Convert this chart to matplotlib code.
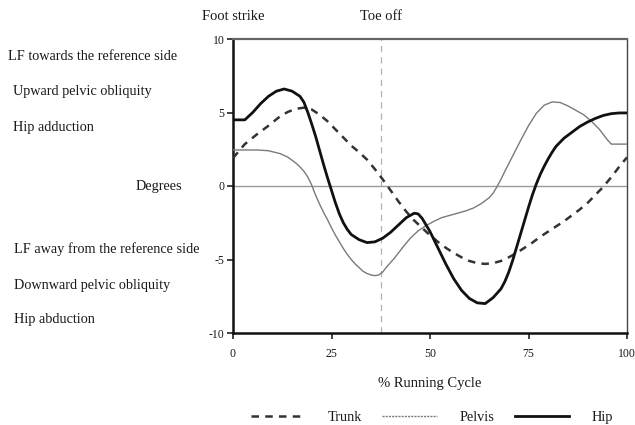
import matplotlib
matplotlib.use("Agg")
import matplotlib.pyplot as plt
import matplotlib.transforms as mtransforms
from matplotlib.lines import Line2D

plt.rcParams['font.family'] = ['Liberation Serif', 'DejaVu Serif']

# % running cycle vs. degrees
trunk_x = [0, 3, 6, 9, 12, 14, 16, 18, 20, 22, 24, 26, 28, 30, 32, 34, 36, 38, 40, 42,
           44, 46, 48, 50, 52, 54, 56, 58, 60, 62, 64, 66, 68, 70, 72, 74, 76, 78, 80,
           82, 84, 86, 88, 90, 92, 94, 96, 98, 100]
trunk_y = [1.9, 2.85, 3.5, 4.1, 4.75, 5.05, 5.25, 5.33, 5.2, 4.85, 4.4, 3.85, 3.3, 2.75,
           2.3, 1.8, 1.15, 0.45, -0.3, -1.05, -1.75, -2.35, -2.85, -3.35, -3.8, -4.2,
           -4.55, -4.85, -5.1, -5.25, -5.3, -5.25, -5.1, -4.85, -4.55, -4.2, -3.85,
           -3.45, -3.1, -2.75, -2.4, -2.0, -1.6, -1.15, -0.6, -0.05, 0.6, 1.3, 1.95]

pelvis_x = [0, 3, 6, 9, 12, 14, 16, 17, 18, 19, 20, 21, 22, 23, 24, 25, 26, 27, 28, 29,
            30, 31, 32, 33, 34, 35, 36, 37, 38, 39, 41, 43, 45, 47, 49, 51, 53, 55, 57,
            59, 61, 63, 65, 66, 67, 68, 69, 71, 73, 75, 77, 79, 81, 83, 85, 87, 89, 91,
            93, 94, 95, 96, 100]
pelvis_y = [2.45, 2.45, 2.45, 2.4, 2.2, 1.95, 1.55, 1.3, 1.0, 0.6, 0.05, -0.65, -1.25,
            -1.8, -2.3, -2.85, -3.35, -3.8, -4.25, -4.65, -5.0, -5.3, -5.55, -5.8, -5.95,
            -6.05, -6.1, -6.05, -5.85, -5.5, -4.9, -4.2, -3.55, -3.05, -2.7, -2.4, -2.15,
            -2.0, -1.85, -1.7, -1.5, -1.2, -0.8, -0.5, -0.05, 0.45, 1.0, 2.05, 3.1, 4.1,
            4.95, 5.5, 5.72, 5.68, 5.45, 5.15, 4.85, 4.4, 3.85, 3.5, 3.15, 2.85, 2.85]

hip_x = [0, 3, 5, 7, 9, 11, 13, 15, 17, 18, 19, 20, 21, 22, 23, 24, 25, 26, 27, 28, 29,
         30, 32, 34, 36, 38, 40, 42, 44, 46, 47, 48, 50, 52, 54, 56, 58, 60, 62, 64, 66,
         68, 69, 70, 71, 72, 73, 74, 75, 76, 77, 78, 79, 80, 81, 82, 84, 86, 88, 90, 92,
         94, 96, 98, 100]
hip_y = [4.5, 4.5, 5.0, 5.6, 6.1, 6.45, 6.6, 6.45, 6.1, 5.7, 5.0, 4.2, 3.35, 2.4, 1.45,
         0.55, -0.3, -1.15, -1.9, -2.5, -2.95, -3.3, -3.65, -3.85, -3.8, -3.55, -3.15,
         -2.65, -2.15, -1.85, -1.9, -2.2, -3.1, -4.2, -5.3, -6.3, -7.1, -7.65, -7.95,
         -8.0, -7.6, -7.0, -6.5, -5.85, -5.05, -4.15, -3.25, -2.35, -1.45, -0.6, 0.15,
         0.8, 1.35, 1.85, 2.3, 2.7, 3.25, 3.65, 4.05, 4.35, 4.6, 4.8, 4.92, 4.97, 4.97]

x_ticks = [0, 25, 50, 75, 100]
y_ticks = [-10, -5, 0, 5, 10]
toe_off = 37.5

upper_labels = ["LF towards the reference side", "Upward pelvic obliquity", "Hip adduction"]
lower_labels = ["LF away from the reference side", "Downward pelvic obliquity", "Hip abduction"]

W, H = 635, 425
fig = plt.figure(figsize=(W / 100, H / 100), dpi=100)
ax = fig.add_axes([233 / W, 1 - 333 / H, (627 - 233) / W, (333 - 39) / H])

txt = '#1a1a1a'

ax.axhline(0, color='#9a9a9a', lw=1.0, zorder=1)
ax.axvline(toe_off, color='#b0b0b0', lw=0.9, ls=(0, (5, 4)), zorder=1)

ax.plot(trunk_x, trunk_y, color='#333333', lw=1.8, ls=(0, (3, 2.5)), zorder=3,
        dash_capstyle='butt')
ax.plot(pelvis_x, pelvis_y, color='#7a7a7a', lw=1.0, zorder=3, solid_joinstyle='round')
ax.plot(hip_x, hip_y, color='#111111', lw=2.0, zorder=4, solid_joinstyle='round')

ax.set_xlim(0, 100)
ax.set_ylim(-10, 10)
ax.set_xticks(x_ticks)
ax.set_yticks(y_ticks)
ax.set_xticklabels([str(v) for v in x_ticks])
ax.set_yticklabels([str(v) for v in y_ticks])
ax.tick_params(direction='out', length=4, width=1.2, colors='#222222', labelsize=8.5,
               labelcolor=txt)
ax.tick_params(axis='x', pad=7)
ax.tick_params(axis='y', pad=2)

for side in ('left', 'bottom'):
    ax.spines[side].set_color('#111111')
    ax.spines[side].set_linewidth(1.8)
ax.spines['top'].set_color('#666666')
ax.spines['top'].set_linewidth(1.6)
ax.spines['right'].set_color('#444444')
ax.spines['right'].set_linewidth(1.0)

ax.set_xlabel('% Running Cycle', fontsize=10.5, color=txt, labelpad=12)

# event labels above the frame
tr = mtransforms.blended_transform_factory(ax.transData, fig.transFigure)
ax.text(0, 1 - 17 / H, 'Foot strike', transform=tr, ha='center', va='center',
        fontsize=10.5, color=txt)
ax.text(toe_off, 1 - 17 / H, 'Toe off', transform=tr, ha='center', va='center',
        fontsize=10.5, color=txt)

# direction labels on the left
for lbl, px, py in zip(upper_labels, [8, 13, 13], [57, 92, 128]):
    fig.text(px / W, 1 - py / H, lbl, ha='left', va='center', fontsize=10.3, color=txt)
for lbl, py in zip(lower_labels, [249, 285, 320]):
    fig.text(14 / W, 1 - py / H, lbl, ha='left', va='center', fontsize=10.3, color=txt)
fig.text(182 / W, 1 - 187 / H, 'Degrees', ha='right', va='center', fontsize=10.3, color=txt)

handles = [
    Line2D([], [], color='#333333', lw=1.8, ls=(0, (3, 2.5))),
    Line2D([], [], color='#7a7a7a', lw=1.0, ls=(0, (1.5, 0.8))),
    Line2D([], [], color='#111111', lw=2.0),
]
fig.legend(handles, ['Trunk', 'Pelvis', 'Hip'], ncol=3, frameon=False,
           loc='center', bbox_to_anchor=(432 / W, 1 - 417 / H),
           fontsize=10.3, handlelength=3.8, handletextpad=1.6, columnspacing=1.4,
           labelcolor=txt)

fig.savefig('out.png', dpi=100)
